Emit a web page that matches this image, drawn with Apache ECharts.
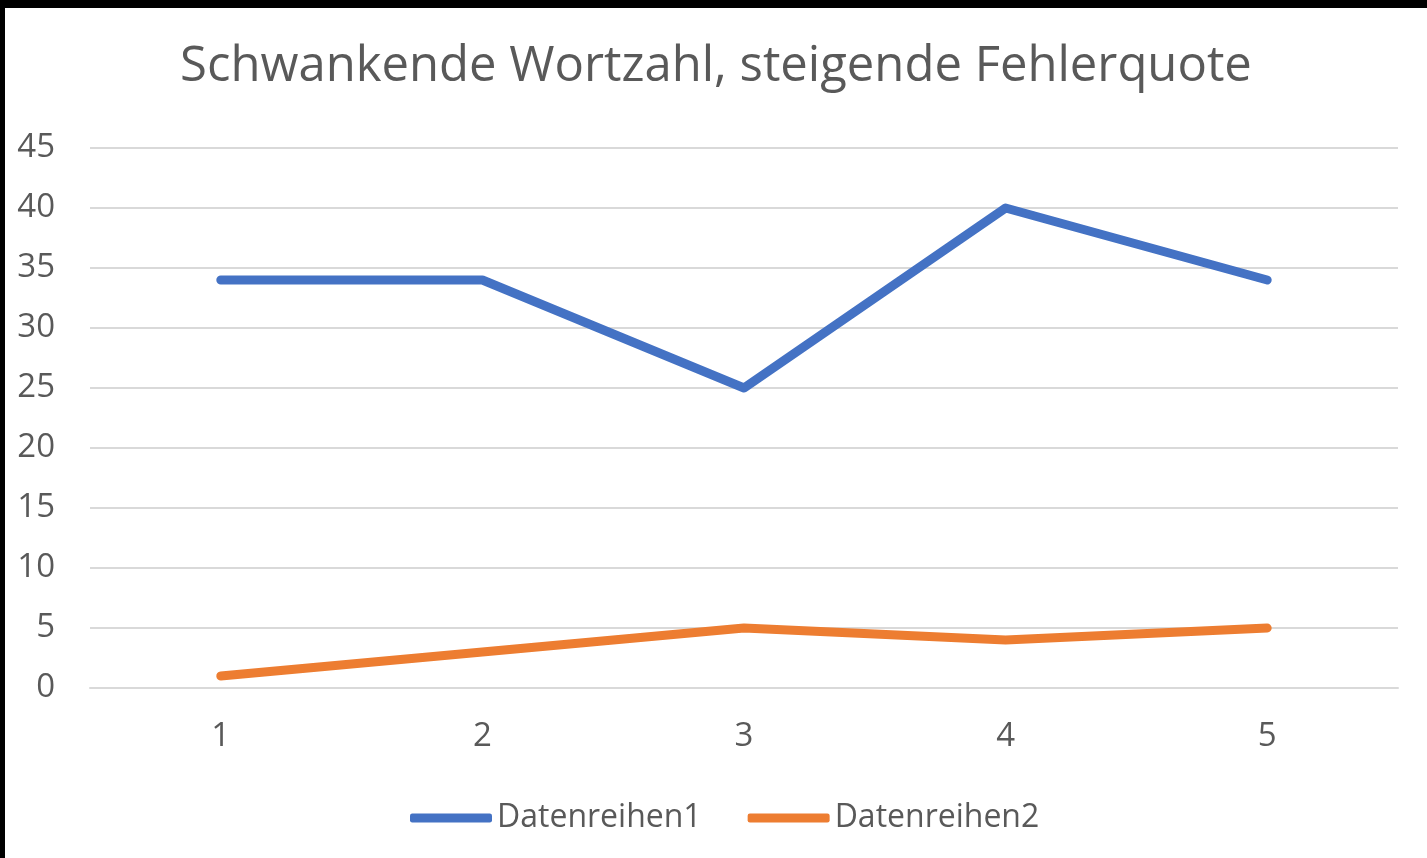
<!DOCTYPE html>
<html>
<head>
<meta charset="utf-8">
<script src="https://cdn.jsdelivr.net/npm/echarts@6/dist/echarts.min.js"></script>
<style>
  html, body { margin: 0; padding: 0; background: #000; }
  #chart { position: absolute; left: 5px; top: 8px; width: 1422px; height: 850px; background: #fff; }
</style>
</head>
<body>
<div id="chart"></div>
<script>
const categories = ['1', '2', '3', '4', '5'];
const series1 = [34, 34, 25, 40, 34];
const series2 = [1, 3, 5, 4, 5];
const seriesNames = ['Datenreihen1', 'Datenreihen2'];

const textColor = '#595959';
const font = '"Open Sans", "Noto Sans", sans-serif';

const myChart = echarts.init(document.getElementById('chart'));

const option = {
  animation: false,
  title: {
    text: 'Schwankende Wortzahl, steigende Fehlerquote',
    left: 'center',
    top: 30,
    textStyle: {
      color: textColor,
      fontFamily: font,
      fontWeight: 'normal',
      fontSize: 49
    }
  },
  legend: {
    data: seriesNames,
    left: 405,
    top: 794,
    padding: 0,
    itemWidth: 82,
    itemHeight: 9,
    itemGap: 46,
    icon: 'roundRect',
    textStyle: {
      color: textColor,
      fontFamily: font,
      fontSize: 32,
      padding: [0, 0, 0, 0]
    }
  },
  grid: {
    left: 85,
    right: 29,
    top: 140,
    bottom: 170,
    containLabel: false
  },
  xAxis: {
    type: 'category',
    data: categories,
    boundaryGap: true,
    axisLine: { lineStyle: { color: '#d9d9d9', width: 2 } },
    axisTick: { show: false },
    axisLabel: {
      color: textColor,
      fontFamily: font,
      fontSize: 33,
      margin: 32
    }
  },
  yAxis: {
    type: 'value',
    min: 0,
    max: 45,
    interval: 5,
    axisLine: { show: false },
    axisTick: { show: false },
    splitLine: { lineStyle: { color: '#d9d9d9', width: 2 } },
    axisLabel: {
      color: textColor,
      fontFamily: font,
      fontSize: 33,
      margin: 35
    }
  },
  series: [
    {
      name: seriesNames[0],
      type: 'line',
      data: series1,
      symbol: 'none',
      itemStyle: { color: '#4472c4' },
      lineStyle: { color: '#4472c4', width: 9, cap: 'round', join: 'round' }
    },
    {
      name: seriesNames[1],
      type: 'line',
      data: series2,
      symbol: 'none',
      itemStyle: { color: '#ed7d31' },
      lineStyle: { color: '#ed7d31', width: 9, cap: 'round', join: 'round' }
    }
  ]
};

myChart.setOption(option);
</script>
</body>
</html>
